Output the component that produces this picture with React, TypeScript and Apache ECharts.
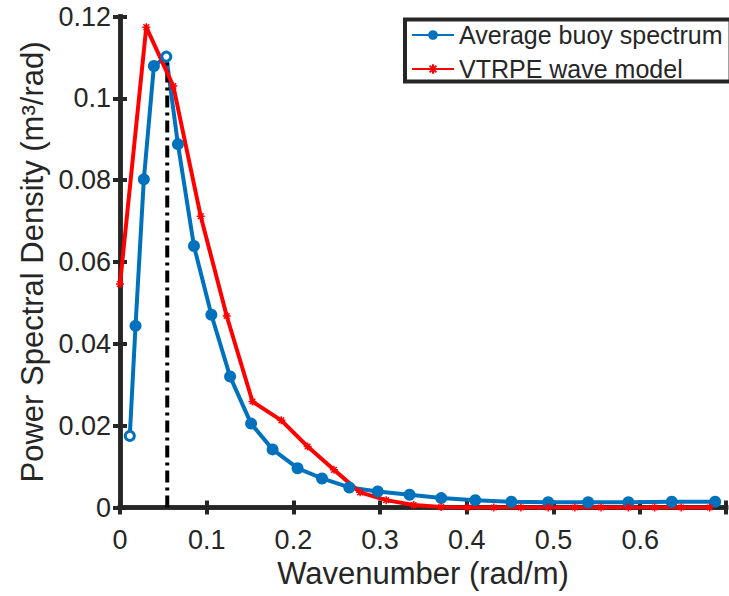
import React, { useEffect, useRef } from "react";
import * as echarts from "echarts";

// Average buoy spectrum (wavenumber rad/m, PSD m^3/rad)
const buoyK = [0.0113, 0.0179, 0.0275, 0.0391, 0.0534, 0.0668, 0.0853, 0.1054, 0.127, 0.1512, 0.176, 0.2048, 0.233, 0.2645, 0.2973, 0.334, 0.3705, 0.4098, 0.4514, 0.4939, 0.540, 0.5864, 0.6364, 0.6865];
const buoyPSD = [0.0175, 0.0444, 0.0802, 0.1079, 0.1102, 0.0888, 0.0639, 0.0471, 0.032, 0.0205, 0.0142, 0.0096, 0.0071, 0.0049, 0.0039, 0.0031, 0.0023, 0.0018, 0.0014, 0.0013, 0.0013, 0.0013, 0.0014, 0.0014];

// VTRPE wave model
const modelK = [0, 0.0303, 0.0615, 0.0931, 0.1231, 0.1528, 0.1861, 0.2164, 0.2468, 0.2769, 0.307, 0.3387, 0.3705, 0.401, 0.4312, 0.4624, 0.4939, 0.5247, 0.5549, 0.5864, 0.6167, 0.6474, 0.6802];
const modelPSD = [0.0546, 0.1174, 0.103, 0.0712, 0.0468, 0.0259, 0.0213, 0.0149, 0.0092, 0.0037, 0.0018, 0.0006, 0.0001, 0, 0, 0, 0, 0, 0, 0, 0, 0, 0];

// Peak wavenumber marker
const peakK = [0.0545, 0.0545];
const peakPSD = [0, 0.1102];

const xTicks = [0, 0.1, 0.2, 0.3, 0.4, 0.5, 0.6];
const hollowIdx = [0, 4];

const FONT = '"Liberation Sans", Arial, Helvetica, sans-serif';
const AX = "#262626";

export default function App() {
  const ref = useRef<HTMLDivElement>(null);
  useEffect(() => {
    document.body.style.margin = "0";
    const chart = echarts.init(ref.current!, null, { renderer: "svg" });
    const axisLine = { show: true, lineStyle: { color: AX, width: 4.5, cap: "square" } };
    const axisTick = { show: true, inside: true, length: 7, lineStyle: { color: AX, width: 4 } };
    const xFmt = (v: number) => {
      const hit = xTicks.find((t) => Math.abs(t - v) < 1e-6);
      return hit === undefined ? "" : String(hit);
    };
    const blueData = buoyK.map((k, i) =>
      hollowIdx.includes(i)
        ? { value: [k, buoyPSD[i]], symbolSize: 9, itemStyle: { color: "#fff", borderColor: "#0072BD", borderWidth: 3 } }
        : { value: [k, buoyPSD[i]] }
    );
    chart.setOption({
      animation: false,
      backgroundColor: "#fff",
      textStyle: { fontFamily: FONT },
      grid: { left: 120, right: 2.5, top: 16.5, bottom: 88.5 },
      legend: {
        data: ["Average buoy spectrum", "VTRPE wave model"],
        orient: "vertical",
        left: 405,
        top: 19.5,
        padding: [3, 8, 0, 6],
        itemGap: 9,
        itemWidth: 42,
        itemHeight: 12,
        borderColor: AX,
        borderWidth: 4,
        backgroundColor: "#fff",
        textStyle: { fontSize: 25, color: AX, fontFamily: FONT, lineHeight: 25 },
      },
      xAxis: [
        {
          type: "value",
          min: 0,
          max: 0.699,
          interval: 0.1,
          position: "bottom",
          axisLine,
          axisTick,
          splitLine: { show: false },
          axisLabel: { fontSize: 27, color: AX, margin: 19, formatter: xFmt, fontFamily: FONT },
          name: "Wavenumber (rad/m)",
          nameLocation: "middle",
          nameGap: 50,
          nameTextStyle: { fontSize: 31, color: AX, fontFamily: FONT },
        },
        {
          type: "value",
          min: 0,
          max: 0.699,
          interval: 0.1,
          position: "top",
          axisLine,
          axisTick,
          splitLine: { show: false },
          axisLabel: { show: false },
        },
      ],
      yAxis: [
        {
          type: "value",
          min: 0,
          max: 0.12,
          interval: 0.02,
          position: "left",
          axisLine,
          axisTick,
          splitLine: { show: false },
          axisLabel: { fontSize: 27, color: AX, margin: 9, fontFamily: FONT },
          name: "Power Spectral Density (m³/rad)",
          nameLocation: "middle",
          nameGap: 71,
          nameTextStyle: { fontSize: 31, color: AX, fontFamily: FONT },
        },
        {
          type: "value",
          min: 0,
          max: 0.12,
          interval: 0.02,
          position: "right",
          axisLine,
          axisTick,
          splitLine: { show: false },
          axisLabel: { show: false },
        },
      ],
      series: [
        {
          name: "Average buoy spectrum",
          type: "line",
          xAxisIndex: 0,
          yAxisIndex: 0,
          data: blueData,
          symbol: "circle",
          symbolSize: 12,
          showAllSymbol: true,
          lineStyle: { color: "#0072BD", width: 4 },
          itemStyle: { color: "#0072BD" },
        },
        {
          name: "peak",
          type: "line",
          xAxisIndex: 0,
          yAxisIndex: 0,
          data: peakK.map((k, i) => [k, peakPSD[i]]),
          symbol: "none",
          lineStyle: { color: "#000", width: 4, type: [12, 5, 3, 5] },
        },
        {
          name: "VTRPE wave model",
          type: "line",
          xAxisIndex: 0,
          yAxisIndex: 0,
          data: modelK.map((k, i) => [k, modelPSD[i]]),
          symbol: "path://M5,0L5,10M0,5L10,5M1.5,1.5L8.5,8.5M1.5,8.5L8.5,1.5",
          symbolSize: 8,
          showAllSymbol: true,
          lineStyle: { color: "#FF0000", width: 4 },
          itemStyle: { color: "#FF0000", borderColor: "#FF0000", borderWidth: 1.5 },
        },
      ],
    });
    return () => chart.dispose();
  }, []);
  return (
    <div
      ref={ref}
      style={{ position: "fixed", left: 0, top: 0, width: 729, height: 596, background: "#fff" }}
    />
  );
}
